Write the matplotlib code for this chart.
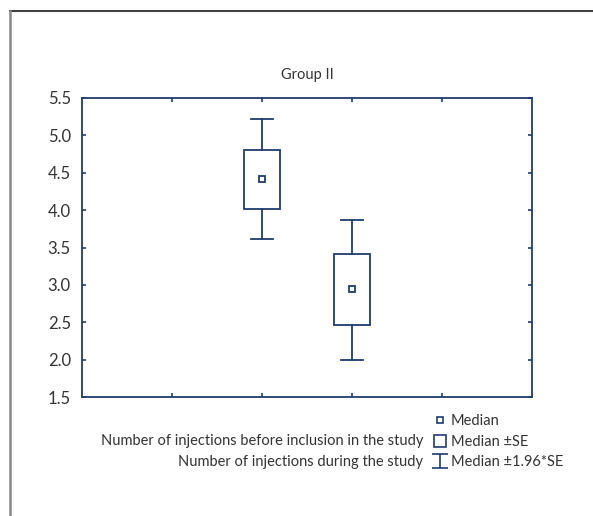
import matplotlib.pyplot as plt
from matplotlib.lines import Line2D
from matplotlib.path import Path
import matplotlib.patches as mpatches

# data
groups = ["Number of injections before inclusion in the study",
          "Number of injections during the study"]
positions = [2, 3]
median = [4.41, 2.95]
se_low = [4.01, 2.46]
se_high = [4.80, 3.41]
ci_low = [3.61, 1.99]
ci_high = [5.22, 3.87]

navy = '#1f3d6e'
txt = '#333333'
plt.rcParams['font.family'] = ['Lato', 'DejaVu Sans']
fs = 10.5

fig = plt.figure(figsize=(5.93, 5.16), dpi=100)
ax = fig.add_axes([82/593, 1 - 397/516, 450/593, 299/516])

box_w = 0.41
cap_w = 0.245
for p, m, sl, sh, cl, ch in zip(positions, median, se_low, se_high, ci_low, ci_high):
    ax.add_patch(mpatches.Rectangle((p - box_w/2, sl), box_w, sh - sl,
                                    fill=False, edgecolor=navy, lw=1.3))
    ax.plot([p, p], [sh, ch], color=navy, lw=1.3)
    ax.plot([p, p], [cl, sl], color=navy, lw=1.3)
    ax.plot([p - cap_w/2, p + cap_w/2], [ch, ch], color=navy, lw=1.3)
    ax.plot([p - cap_w/2, p + cap_w/2], [cl, cl], color=navy, lw=1.3)
    ax.plot([p], [m], marker='s', ms=5, mfc='white', mec=navy, mew=1.3)

ax.set_xlim(0, 5)
ax.set_ylim(1.5, 5.5)
ax.set_xticks([1, 2, 3, 4])
ax.set_xticklabels([])
ax.set_yticks([1.5, 2.0, 2.5, 3.0, 3.5, 4.0, 4.5, 5.0, 5.5])
ax.set_yticklabels(['%.1f' % v for v in ax.get_yticks()], fontsize=12, color=txt)
ax.tick_params(direction='in', length=3, color=navy, width=1.2,
               top=True, right=True, pad=8)
for s in ax.spines.values():
    s.set_color(navy)
    s.set_linewidth(1.3)
ax.set_title('Group II', fontsize=fs, color=txt, pad=14)

# legend block below the axes
fig.text(423/593, 1 - 441/516, groups[0], ha='right', va='center', fontsize=fs, color=txt)
fig.text(423/593, 1 - 462/516, groups[1], ha='right', va='center', fontsize=fs, color=txt)

ibar = Path([(-1, 0.9), (1, 0.9), (0, 0.9), (0, -0.9), (-1, -0.9), (1, -0.9)],
            [Path.MOVETO, Path.LINETO, Path.MOVETO, Path.LINETO, Path.MOVETO, Path.LINETO])
handles = [
    Line2D([], [], ls='none', marker='s', ms=5, mfc='white', mec=navy, mew=1.2),
    Line2D([], [], ls='none', marker='s', ms=9, mfc='white', mec=navy, mew=1.2),
    Line2D([], [], ls='none', marker=ibar, ms=11, color=navy, mew=1.2),
]
fig.legend(handles, ['Median', 'Median \u00b1SE', 'Median \u00b11.96*SE'],
           loc='upper left', bbox_to_anchor=(425/593, 1 - 407/516),
           frameon=False, fontsize=fs, handlelength=1.0, handletextpad=0.25,
           labelspacing=0.45, borderpad=0, labelcolor=txt)

# outer frame lines
fig.add_artist(Line2D([10/593, 1], [1 - 11/516, 1 - 11/516], color='#444444', lw=1.5))
fig.add_artist(Line2D([10/593, 10/593], [0, 1 - 11/516], color='#888888', lw=1.8))

fig.savefig('out.png', dpi=100)
